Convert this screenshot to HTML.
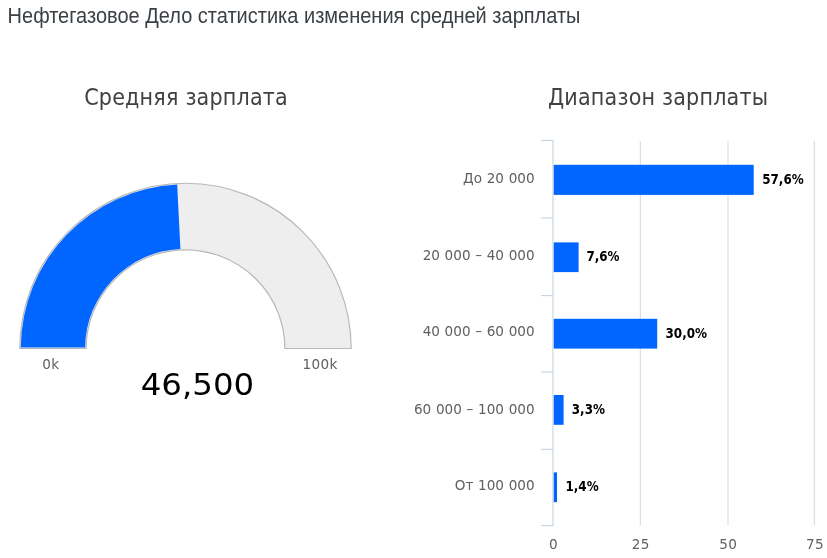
<!DOCTYPE html>
<html lang="ru"><head><meta charset="utf-8"><title>Нефтегазовое Дело статистика изменения средней зарплаты</title>
<style>
html,body{margin:0;padding:0;background:#fff;}
body{width:827px;height:558px;overflow:hidden;position:relative;font-family:"Liberation Sans",sans-serif;}
h1{position:absolute;left:7.6px;top:4px;transform-origin:0 19px;transform:scaleY(1.06);margin:0;font-weight:normal;font-size:20px;line-height:24px;color:#3b4045;white-space:nowrap;}
svg{position:absolute;left:0;top:0;}
svg text{font-family:"DejaVu Sans","Liberation Sans",sans-serif;}
.ct{font-family:"DejaVu Sans Condensed","DejaVu Sans","Liberation Sans",sans-serif;font-size:23px;fill:#414141;letter-spacing:0.2px;}
.al{font-size:13.6px;fill:#606060;letter-spacing:0.4px;}
.cl{font-size:13.6px;fill:#606060;word-spacing:0.35px;}
.gl{font-size:13.6px;fill:#606060;letter-spacing:0.3px;}
.dl{font-family:"DejaVu Sans Condensed","DejaVu Sans","Liberation Sans",sans-serif;font-size:14px;font-weight:bold;fill:#000;}
.val{font-size:30px;fill:#000;}
</style></head><body>
<h1>Нефтегазовое Дело статистика изменения средней зарплаты</h1>
<svg width="827" height="558" viewBox="0 0 827 558">
<text class="ct" x="186.1" y="104.8" text-anchor="middle" textLength="203.8" lengthAdjust="spacingAndGlyphs">Средняя зарплата</text>
<path d="M19.80,348.5 A165.7,165.25 0 0 1 351.2,348.5 L284.90,348.5 A99.4,98.75 0 0 0 86.10,348.5 Z" fill="#eeeeee" stroke="#b8b8b8" stroke-width="1.2"/>
<path d="M20.80,347.5 A164.7,164.25 0 0 1 177.17,184.46 L180.42,248.88 A100.4,99.75 0 0 0 85.10,347.5 Z" fill="#0066ff"/>
<text class="gl" x="50.8" y="368.8" text-anchor="middle">0k</text>
<text class="gl" x="320.1" y="368.8" text-anchor="middle">100k</text>
<text class="val" x="140.7" y="394.8" textLength="113.5" lengthAdjust="spacingAndGlyphs">46,500</text>
<text class="ct" x="658.1" y="104.8" text-anchor="middle" textLength="220.3" lengthAdjust="spacingAndGlyphs">Диапазон зарплаты</text>
<rect x="639.80" y="141" width="1" height="384.3" fill="#d8d8d8"/>
<rect x="727.50" y="141" width="1" height="384.3" fill="#d8d8d8"/>
<rect x="813.80" y="141" width="1" height="384.3" fill="#d8d8d8"/>
<rect x="553.6" y="164.8" width="200.1" height="30.1" fill="#0066ff"/>
<rect x="553.6" y="242.4" width="25.0" height="29.7" fill="#0066ff"/>
<rect x="553.6" y="318.8" width="103.6" height="29.8" fill="#0066ff"/>
<rect x="553.6" y="395.0" width="10.0" height="29.8" fill="#0066ff"/>
<rect x="553.6" y="472.4" width="3.4" height="29.8" fill="#0066ff"/>
<rect x="552.45" y="139.9" width="1" height="386.2" fill="#c0d0e0"/>
<rect x="541" y="139.90" width="12" height="1" fill="#c0d0e0"/>
<rect x="541" y="217.50" width="12" height="1" fill="#c0d0e0"/>
<rect x="541" y="295.10" width="12" height="1" fill="#c0d0e0"/>
<rect x="541" y="371.50" width="12" height="1" fill="#c0d0e0"/>
<rect x="541" y="448.80" width="12" height="1" fill="#c0d0e0"/>
<rect x="541" y="525.10" width="12" height="1" fill="#c0d0e0"/>
<text class="cl" x="534.6" y="182.5" text-anchor="end">До 20 000</text>
<text class="cl" x="534.6" y="259.7" text-anchor="end">20 000 – 40 000</text>
<text class="cl" x="534.6" y="336.1" text-anchor="end">40 000 – 60 000</text>
<text class="cl" x="534.6" y="413.6" text-anchor="end">60 000 – 100 000</text>
<text class="cl" x="534.6" y="489.9" text-anchor="end">От 100 000</text>
<text class="dl" transform="translate(762.2,183.6) scale(0.95,1)" textLength="43.66" lengthAdjust="spacingAndGlyphs">57,6%</text>
<text class="dl" transform="translate(586.4,260.5) scale(0.95,1)" textLength="34.91" lengthAdjust="spacingAndGlyphs">7,6%</text>
<text class="dl" transform="translate(665.5,337.5) scale(0.95,1)" textLength="43.66" lengthAdjust="spacingAndGlyphs">30,0%</text>
<text class="dl" transform="translate(571.8,413.8) scale(0.95,1)" textLength="34.91" lengthAdjust="spacingAndGlyphs">3,3%</text>
<text class="dl" transform="translate(565.5,490.8) scale(0.95,1)" textLength="34.91" lengthAdjust="spacingAndGlyphs">1,4%</text>
<text class="al" x="553.6" y="548.7" text-anchor="middle">0</text>
<text class="al" x="640.7" y="548.7" text-anchor="middle">25</text>
<text class="al" x="728.3" y="548.7" text-anchor="middle">50</text>
<text class="al" x="815" y="548.7" text-anchor="middle">75</text>
</svg>
</body></html>
